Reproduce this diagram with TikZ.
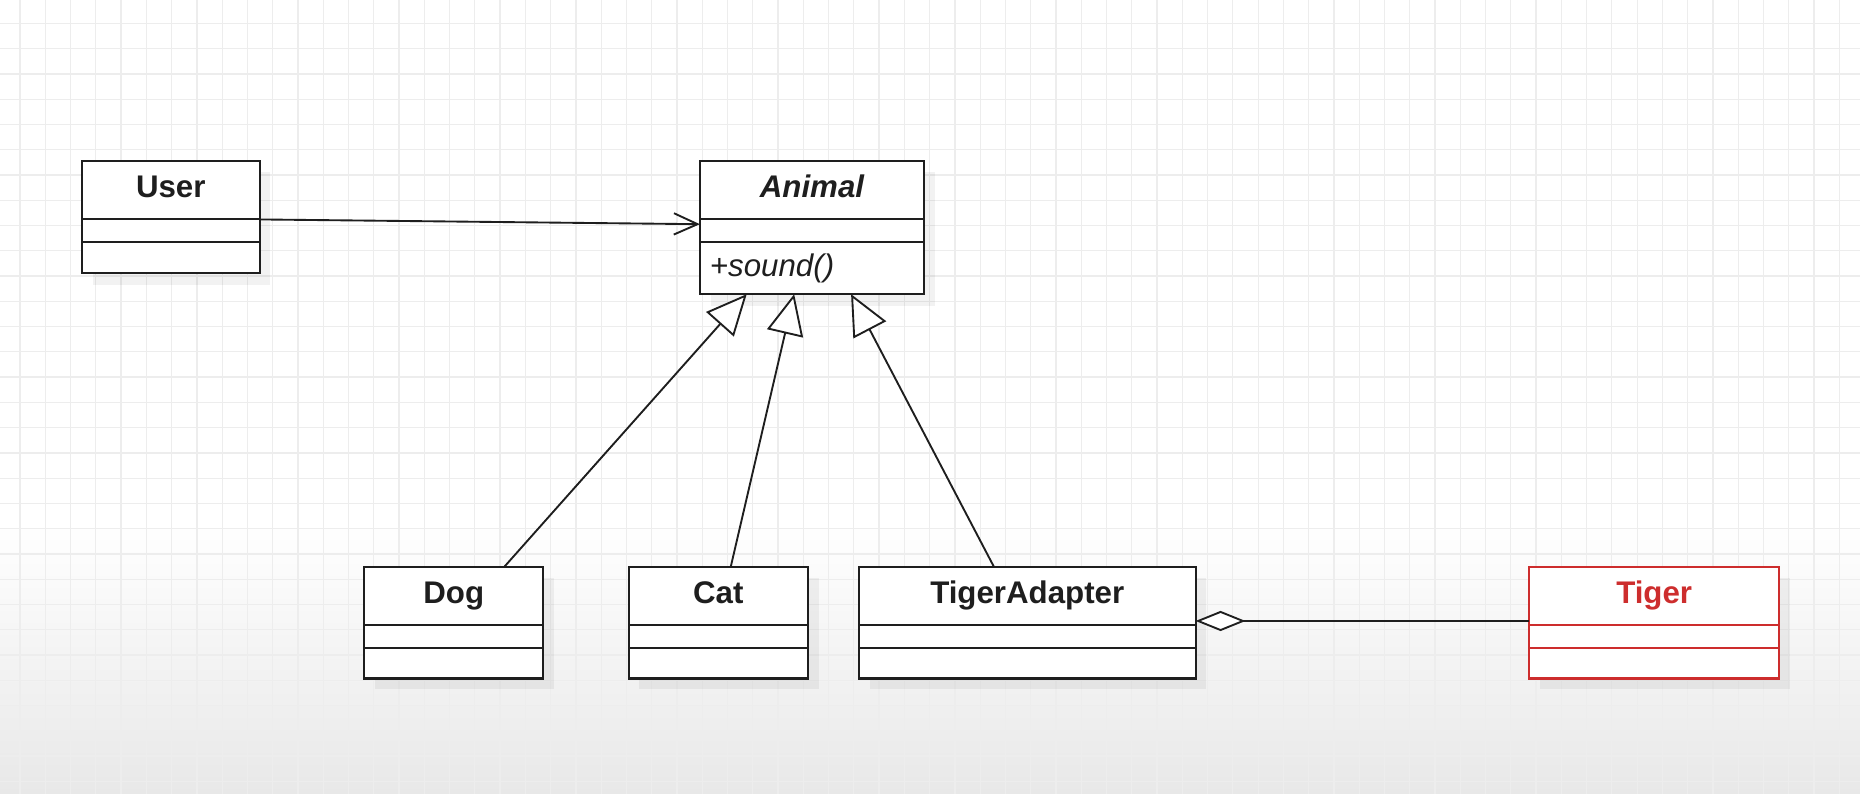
\documentclass[tikz,border=0pt]{standalone}
\usepackage{fontspec}
\setmainfont{Liberation Sans}
\usetikzlibrary{positioning,arrows.meta}

\definecolor{ink}{RGB}{30,30,30}
\definecolor{tigred}{RGB}{205,45,45}
\definecolor{gridln}{RGB}{237,237,237}

\begin{document}
\begin{tikzpicture}[x=0.02cm,y=-0.02cm,
box/.style = {draw=ink,line width=1pt,fill=white,inner sep=0pt,outer sep=0pt,anchor=north west},
nm/.style = {box,minimum height=0.98cm,text height=0.72em,text depth=0pt,text=ink,font=\fontsize{15}{18}\selectfont\bfseries},
att/.style = {box,minimum height=0.38cm},
opr/.style = {box,minimum height=0.52cm},
red/.style = {draw=tigred,text=tigred},
shd/.style = {fill=black,opacity=0.05},
assoc/.style = {draw=ink,line width=0.9pt,-{Straight Barb[length=0.4cm,width=0.36cm]}},
gen/.style = {draw=ink,line width=0.9pt,-{Triangle[open,length=0.68cm,width=0.62cm,fill=white]}},
agg/.style = {draw=ink,line width=0.9pt,-{Diamond[open,length=0.84cm,width=0.34cm,fill=white]}}
]
  \useasboundingbox (0,0) rectangle (1568,669);
  \fill[white] (0,0) rectangle (1568,669);
  \shade[top color=white,bottom color=black!9] (0,440) rectangle (1568,669);
  \foreach \gx in {16.9,38.2,...,1568} \draw[gridln,line width=0.6pt] (\gx,0) -- (\gx,669);
  \foreach \gy in {19.7,41.0,...,669} \draw[gridln,line width=0.6pt] (0,\gy) -- (1568,\gy);

  \foreach \xa/\ya/\xb/\yb in {69/136/219/231,590/136/779/249,307/478/458/572,530/478/681/572,724/478/1008/572,1289/478/1500/572}
    \fill[shd] (\xa+9,\ya+9) rectangle (\xb+9,\yb+9);

  \node[nm,minimum width=3cm] (uname) at (69,136) {User};
  \node[att,minimum width=3cm,below=0pt of uname] (uattr) {};
  \node[opr,minimum width=3cm,below=0pt of uattr] (uop) {};

  \node[nm,minimum width=3.78cm] (aname) at (590,136) {\itshape Animal};
  \node[att,minimum width=3.78cm,below=0pt of aname] (aattr) {};
  \node[box,minimum height=0.88cm,text width=3.44cm,inner xsep=0.17cm,align=left,text=ink,
        font=\fontsize{15}{18}\selectfont\itshape,below=0pt of aattr] (aop) {+sound()};

  \node[nm,minimum width=3.02cm] (dname) at (307,478) {Dog};
  \node[att,minimum width=3.02cm,below=0pt of dname] (dattr) {};
  \node[opr,minimum width=3.02cm,below=0pt of dattr] (dop) {};

  \node[nm,minimum width=3.02cm] (cname) at (530,478) {Cat};
  \node[att,minimum width=3.02cm,below=0pt of cname] (cattr) {};
  \node[opr,minimum width=3.02cm,below=0pt of cattr] (cop) {};

  \node[nm,minimum width=5.68cm] (taname) at (724,478) {TigerAdapter};
  \node[att,minimum width=5.68cm,below=0pt of taname] (taattr) {};
  \node[opr,minimum width=5.68cm,below=0pt of taattr] (taop) {};

  \node[nm,red,minimum width=4.22cm] (tname) at (1289,478) {Tiger};
  \node[att,red,minimum width=4.22cm,below=0pt of tname] (tattr) {};
  \node[opr,red,minimum width=4.22cm,below=0pt of tattr] (top) {};

  \draw[assoc] (uname.south east) -- ([yshift=-0.08cm]aname.south west);

  \draw[gen] ([xshift=2.36cm]dname.north west) -- ([xshift=0.79cm]aop.south west);
  \draw[gen] ([xshift=1.72cm]cname.north west) -- ([xshift=1.59cm]aop.south west);
  \draw[gen] ([xshift=2.28cm]taname.north west) -- ([xshift=2.55cm]aop.south west);

  \draw[agg] ([yshift=0.07cm]tname.south west) -- ([yshift=0.07cm]taname.south east);

\end{tikzpicture}
\end{document}
